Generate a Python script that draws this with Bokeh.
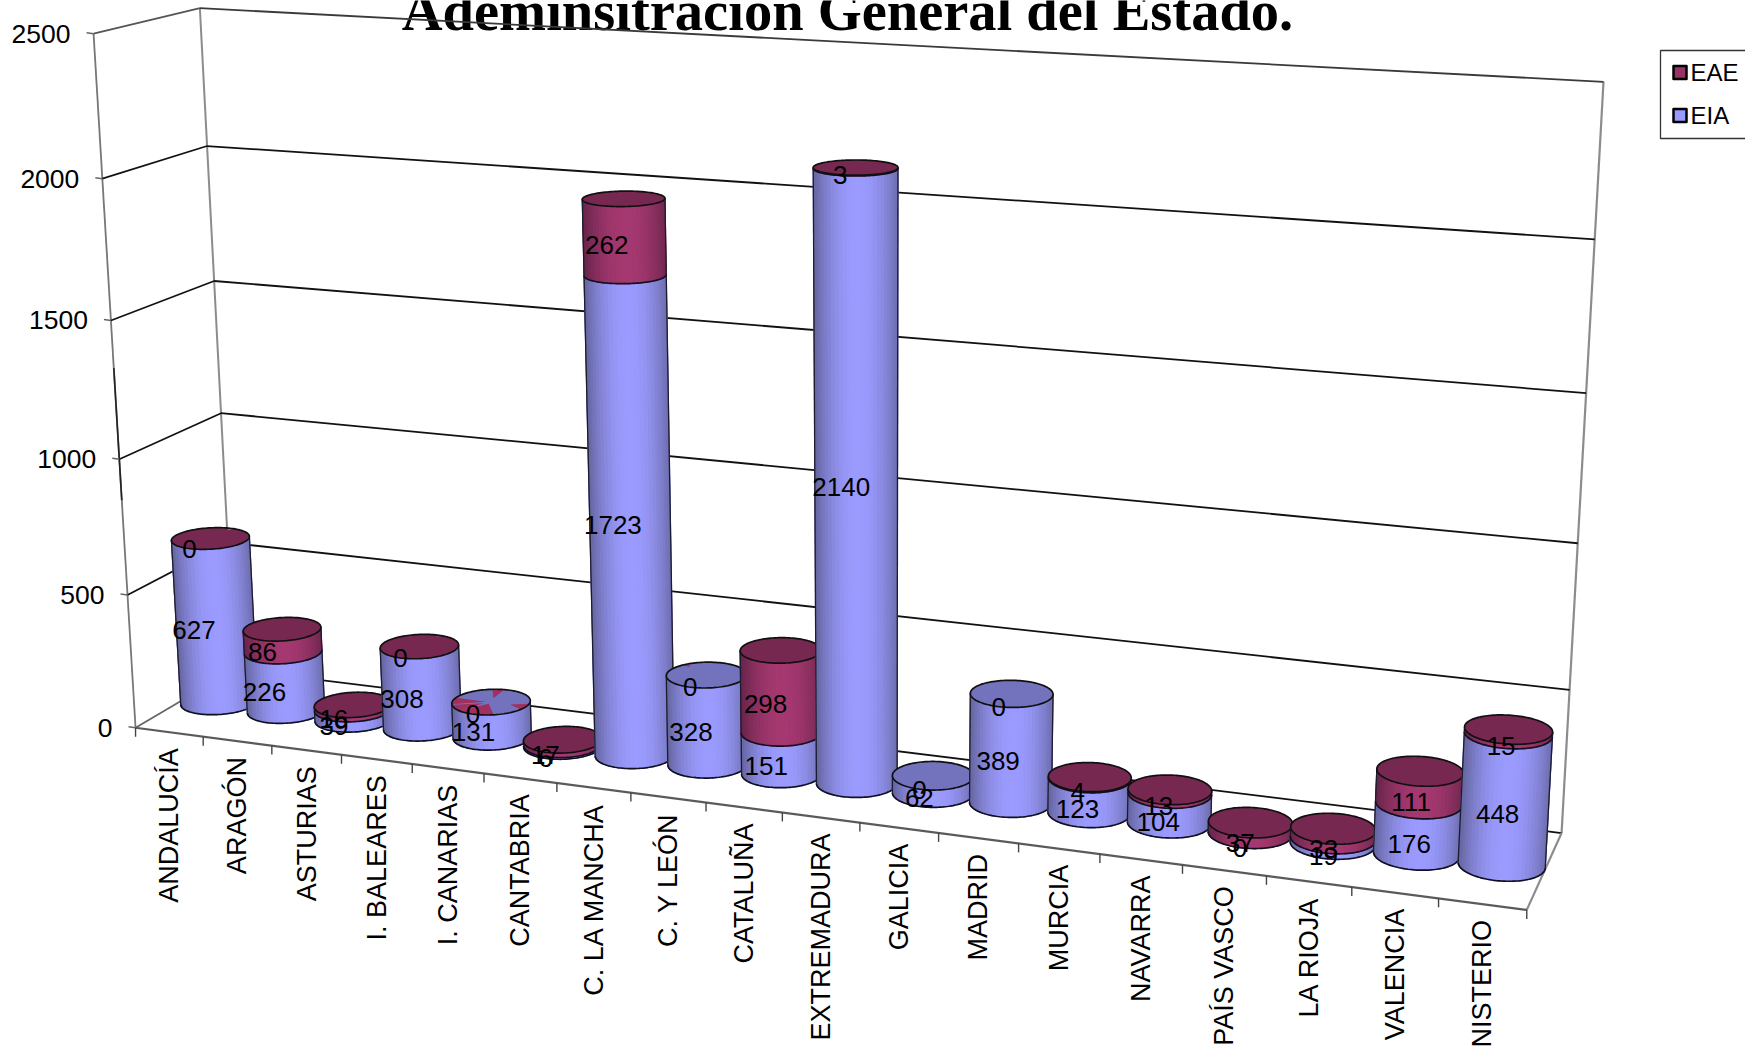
import numpy as np
from bokeh.plotting import figure
from bokeh.models import Range1d
from bokeh.core.properties import value
from bokeh.embed import file_html
from bokeh.resources import INLINE

TITLE = "Ademinsitración General del Estado."
categories = ["ANDALUCÍA", "ARAGÓN", "ASTURIAS", "I. BALEARES", "I. CANARIAS", "CANTABRIA",
              "C. LA MANCHA", "C. Y LEÓN", "CATALUÑA", "EXTREMADURA", "GALICIA", "MADRID",
              "MURCIA", "NAVARRA", "PAÍS VASCO", "LA RIOJA", "VALENCIA", "MINISTERIO"]
eia = [627, 226, 39, 308, 131, 6, 1723, 328, 151, 2140, 62, 389, 123, 104, 0, 19, 176, 448]
eae = [0, 86, 16, 0, 0, 17, 262, 0, 298, 3, 0, 0, 4, 13, 37, 33, 111, 15]
top_series = ["EAE", "EAE", "EAE", "EAE", "EIA", "EAE", "EAE", "EIA", "EAE", "EAE", "EIA", "EIA",
              "EAE", "EAE", "EAE", "EAE", "EAE", "EAE"]
y_ticks = [0, 500, 1000, 1500, 2000, 2500]
VMAX = 2500.0

# Calibration of the 3D axes box (category, depth, value) -> page pixels
K = 1745 / 1568
front_ticks = [122, 183, 244, 307, 370, 435, 500, 567, 634, 703, 772, 843, 915, 988, 1062, 1137, 1214, 1292, 1371]
calib = []
for v, a, b, c in zip(y_ticks, [(122, 653), (112, 533), (104, 411), (98, 287), (92, 160), (86, 31)],
                      [(212, 603), (204, 488), (197, 371), (191, 252), (185, 131), (180, 7)],
                      [(1403, 745), (1410, 620), (1417, 487), (1424, 353), (1433, 214), (1441, 73)]):
    calib += [((0, 0, v), a), ((0, 1, v), b), ((18, 1, v), c)]
for i, x in enumerate(front_ticks):
    calib.append(((i, 0, 0), (x, 653 + (x - 122) * 165 / 1249)))

A = []
for (c, d, v), (x, y) in calib:
    X = [c / 18, d, v / VMAX, 1]
    x, y = x * K, y * K
    A.append([*X, 0, 0, 0, 0, *[-x * q for q in X]])
    A.append([0, 0, 0, 0, *X, *[-y * q for q in X]])
P = np.linalg.svd(np.array(A))[2][-1].reshape(3, 4)


def proj(c, d, v):
    c, d, v = np.broadcast_arrays(np.asarray(c, float), np.asarray(d, float), np.asarray(v, float))
    X = np.stack([c / 18, d, v / VMAX, np.ones_like(c)])
    w = P @ X
    return w[0] / w[2], w[1] / w[2]


W, H = 1745, 1048
p = figure(width=W, height=H, output_backend="svg", toolbar_location=None,
           x_range=Range1d(0, W), y_range=Range1d(H, 0), min_border=0)
p.axis.visible = False
p.grid.visible = False
p.outline_line_color = None
p.background_fill_color = "white"
p.border_fill_color = "white"

SANS = value("Liberation Sans")


def seg(a, b, color="#868686", w=2.0):
    xa, ya = proj(*a)
    xb, yb = proj(*b)
    p.line([float(xa), float(xb)], [float(ya), float(yb)], line_color=color, line_width=w)


# title, under the grid
p.text([847], [10], text=[TITLE], text_font=value("Liberation Serif"), text_font_style="bold",
       text_font_size="56.5px", text_align="center", text_baseline="alphabetic", text_color="black")

# walls and grid
seg((0, 0, 0), (0, 0, 2500), "#777777", 1.8)
seg((0, 0, 850), (0, 0, 1330), "#222222", 1.6)
seg((0, 1, 0), (0, 1, 2500), "#8c8c8c", 2.0)
seg((18, 1, 0), (18, 1, 2500), "#8c8c8c", 2.2)
for v in y_ticks:
    col = "#111111" if v != 2500 else "#3a3a3a"
    if v > 0:
        seg((0, 0, v), (0, 1, v), col if v != 2500 else "#555555", 1.7)
    seg((0, 1, v), (18, 1, v), col, 1.8)
seg((0, 0, 0), (0, 1, 0), "#666666", 1.8)
seg((18, 0, 0), (18, 1, 0), "#8c8c8c", 2.2)
seg((0, 0, 0), (18, 0, 0), "#5a5a5a", 2.2)

# value axis ticks and labels
for v in y_ticks:
    x, y = proj(0, 0, v)
    p.line([float(x) - 7, float(x)], [float(y) - 1, float(y)], line_color="#666666", line_width=1.5)
    p.text([float(x) - 23], [float(y)], text=[str(v)], text_font=SANS, text_font_size="26.5px",
           text_align="right", text_baseline="middle", text_color="black")

# category ticks and labels
for i in range(19):
    x, y = proj(i, 0, 0)
    p.line([float(x), float(x)], [float(y), float(y) + 9], line_color="#444444", line_width=1.4)
for i, name in enumerate(categories):
    x, y = proj(i + 0.5, 0, 0)
    p.text([float(x)], [float(y) + 16], text=[name], text_font=SANS, text_font_size="27px", angle=np.pi / 2,
           text_align="right", text_baseline="middle", text_color="black")

# cylinders
RX, RD, DC, DL = 0.5, 0.2, 0.5, 0.28
COL = {"EIA": ((155, 155, 255), (104, 104, 165)), "EAE": ((165, 56, 112), (106, 38, 76))}
TOP = {"EIA": "#7373bd", "EAE": "#772850"}
SHARD = {"EIA": "#7373bd", "EAE": "#a0305f"}
T = np.linspace(0, 2 * np.pi, 121)
# stray wedges showing through the coincident top faces: category -> (start deg, end deg, inner radius, series)
shards = {0: [(84, 92, 0.8, "EIA")], 3: [(84, 90, 0.86, "EIA")],
          4: [(180, 210, 0.15, "EAE"), (212, 242, 0.2, "EAE"), (242, 300, 0.15, "EAE"),
              (96, 114, 0.3, "EAE"), (-16, 12, 0.55, "EAE")],
          7: [(140, 150, 0.75, "EAE")]}


def mix(rgb):
    return "#%02x%02x%02x" % tuple(int(round(q)) for q in rgb)


def circle(c, v):
    return proj(c + 0.5 + RX * np.cos(T), DC + RD * np.sin(T), np.full_like(T, v, dtype=float))


for i in range(len(categories)):
    top = float(eia[i] + eae[i])
    x0, y0 = circle(i, 0)
    il, ir = int(np.argmin(x0)), int(np.argmax(x0))
    n = len(T) - 1
    a = il
    front = [a]
    step = 1 if y0[(il + 10) % n] > y0[(il - 10) % n] else -1
    while a != ir:
        a = (a + step) % n
        front.append(a)
    front = np.array(front)
    for name, v0, v1 in (("EIA", 0.0, float(eia[i])), ("EAE", float(eia[i]), top)):
        if v1 <= v0:
            continue
        xb, yb = circle(i, v0)
        xt, yt = circle(i, v1)
        xb, yb, xt, yt = xb[front], yb[front], xt[front], yt[front]
        bright, dark = COL[name]
        xs, ys, cs = [], [], []
        stride = max(1, len(front) // 30)
        idx = list(range(0, len(front) - 1, stride)) + [len(front) - 1]
        for j0, j1 in zip(idx[:-1], idx[1:]):
            u = ((xb[j0] + xb[j1]) / 2 - xb[0]) / (xb[-1] - xb[0])
            s = 1 - min(1.0, abs(2 * u - 1.06) ** 2.0)
            rgb = [d + (b - d) * s for b, d in zip(bright, dark)]
            xs.append(list(xb[j0:j1 + 1]) + list(xt[j0:j1 + 1][::-1]))
            ys.append(list(yb[j0:j1 + 1]) + list(yt[j0:j1 + 1][::-1]))
            cs.append(mix(rgb))
        p.patches(xs, ys, fill_color=cs, line_color=cs, line_width=1.2)
        p.line(list(xb), list(yb), line_color="#101020", line_width=1.7)
        p.line([xb[0], xt[0]], [yb[0], yt[0]], line_color="#1c1c30", line_width=1.3)
        p.line([xb[-1], xt[-1]], [yb[-1], yt[-1]], line_color="#1c1c30", line_width=1.3)
    xt, yt = circle(i, top)
    p.patch(list(xt), list(yt), fill_color=TOP[top_series[i]], line_color=None)
    for d0, d1, frac, ser in shards.get(i, []):
        t = np.radians(np.append(np.linspace(d0, d1, 5), (d0 + d1) / 2))
        r = np.array([1, 1, 1, 1, 1, frac], dtype=float)
        sx, sy = proj(i + 0.5 + RX * r * np.cos(t), DC + RD * r * np.sin(t), np.full_like(t, top))
        p.patch(list(sx), list(sy), fill_color=SHARD[ser], line_color=None)
    p.line(list(xt), list(yt), line_color="#101010", line_width=1.7)

# data labels
for i in range(len(categories)):
    for k, (v0, val) in enumerate(((0, eia[i]), (eia[i], eae[i]))):
        x, y = proj(i + 0.5, DL, v0 + val / 2)
        lift = 1 + (val / 2 * 0.006 if k == 0 else 0)
        p.text([float(x) + 1], [float(y) - lift], text=[str(val)], text_font=SANS, text_font_size="26px",
               text_align="center", text_baseline="middle", text_color="black")

# legend
p.quad(left=[1660], right=[1760], top=[50], bottom=[138], fill_color="white", line_color="#333333", line_width=1.3)
for yy, col, name in ((72, "#993366", "EAE"), (115, "#9999ff", "EIA")):
    p.quad(left=[1673], right=[1686], top=[yy - 6.5], bottom=[yy + 6.5], fill_color=col, line_color="#000000",
           line_width=2.5, line_join="round")
    p.text([1690], [yy], text=[name], text_font=SANS, text_font_size="24px", text_align="left",
           text_baseline="middle", text_color="black")

open("out.html", "w").write(file_html(p, INLINE))
